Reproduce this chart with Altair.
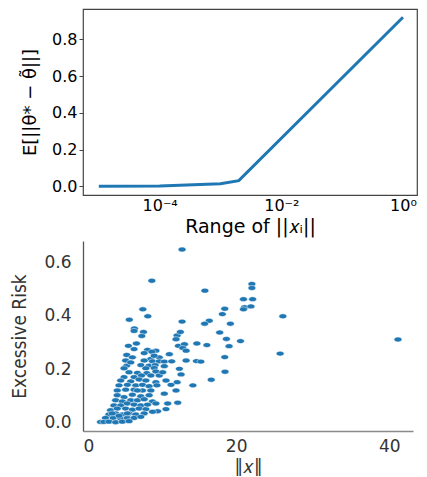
import altair as alt
import pandas as pd

# ---- top panel data ----
range_x = [1e-5, 1e-4, 1e-3, 2e-3, 1.0]
expected_err = [0.0, 0.002, 0.014, 0.031, 0.92]

# ---- bottom panel data ----
norm_x = [
    12.94, 8.99, 15.92, 22.06, 22.06, 20.96, 22.15, 21.10, 20.96, 21.93,
    18.51, 18.20, 26.10, 19.25, 16.49, 15.88, 12.94, 8.46, 7.81, 6.71,
    6.05, 17.85, 18.73, 20.57, 19.08, 41.14, 25.75, 18.51, 18.55, 16.75,
    16.18, 14.87, 14.82, 15.39,
    6.67, 7.90, 7.68, 12.29, 12.72, 12.15, 5.93, 6.98, 12.46, 13.25,
    6.67, 8.43, 9.52, 13.03, 7.99, 9.00, 13.47, 5.71, 6.45, 9.96,
    11.28, 8.86, 9.30, 5.57, 7.99, 9.08, 9.96, 10.62, 11.58, 13.47,
    5.71, 7.55, 8.64, 9.43, 8.21, 9.30, 10.62, 12.59, 6.01, 7.11,
    8.34, 9.52, 5.36, 6.67, 7.64, 8.86, 9.96, 12.81, 4.92, 6.23,
    7.33, 8.21, 9.52, 10.84, 12.29, 4.70, 5.79, 6.89, 7.77, 8.64,
    9.65, 14.35, 4.48, 5.57, 6.67, 7.77, 8.86, 10.62, 12.15, 4.48,
    5.36, 6.45, 7.55, 8.64, 4.26, 5.14, 6.23, 7.11, 7.99, 9.08,
    4.04, 4.92, 5.79, 6.67, 7.55, 9.52, 11.06, 12.37, 3.60, 4.48,
    5.57, 6.45, 7.33, 8.21, 9.74, 10.84, 3.38, 4.26, 5.14, 6.01,
    6.89, 7.99, 2.94, 3.95, 4.92, 5.79, 6.67, 7.55, 2.29, 2.72,
    3.38, 4.26, 5.14, 6.01, 11.49,
    10.40, 6.23, 7.11, 5.79, 5.36, 9.08, 8.43, 4.70, 3.82,
]
excess_risk = [
    0.649, 0.532, 0.495, 0.520, 0.505, 0.463, 0.463, 0.433, 0.425, 0.436,
    0.427, 0.407, 0.399, 0.371, 0.382, 0.371, 0.379, 0.399, 0.425, 0.353,
    0.386, 0.338, 0.314, 0.306, 0.287, 0.312, 0.259, 0.246, 0.191, 0.161,
    0.291, 0.297, 0.231, 0.229,
    0.344, 0.340, 0.325, 0.327, 0.340, 0.313, 0.288, 0.297, 0.288, 0.294,
    0.276, 0.273, 0.270, 0.280, 0.261, 0.266, 0.270, 0.254, 0.245, 0.245,
    0.257, 0.239, 0.251, 0.233, 0.233, 0.230, 0.230, 0.229, 0.230, 0.233,
    0.214, 0.216, 0.214, 0.216, 0.204, 0.205, 0.212, 0.202, 0.189, 0.187,
    0.186, 0.192, 0.171, 0.171, 0.177, 0.177, 0.177, 0.181, 0.158, 0.155,
    0.162, 0.158, 0.152, 0.158, 0.152, 0.140, 0.142, 0.140, 0.142, 0.137,
    0.140, 0.140, 0.121, 0.124, 0.124, 0.121, 0.121, 0.109, 0.121, 0.103,
    0.096, 0.105, 0.099, 0.103, 0.084, 0.080, 0.084, 0.084, 0.088, 0.080,
    0.065, 0.065, 0.072, 0.068, 0.065, 0.072, 0.072, 0.075, 0.047, 0.053,
    0.053, 0.049, 0.053, 0.051, 0.043, 0.051, 0.031, 0.035, 0.031, 0.035,
    0.031, 0.035, 0.018, 0.018, 0.016, 0.018, 0.018, 0.022, 0.003, 0.003,
    0.004, 0.002, 0.004, 0.006, 0.142,
    0.189, 0.226, 0.121, 0.035, 0.204, 0.041, 0.068, 0.026, 0.035,
]

top_ticks = [1e-4, 1e-2, 1.0]
top_yticks = [0.0, 0.2, 0.4, 0.6, 0.8]
bot_xticks = [0, 20, 40]
bot_yticks = [0.0, 0.2, 0.4, 0.6]

top_df = pd.DataFrame({"range": range_x, "err": expected_err})
bot_df = pd.DataFrame({"norm": norm_x, "risk": excess_risk})

BLUE = "#1f77b4"
NARROW = "Liberation Sans Narrow, DejaVu Sans Condensed, Roboto, sans-serif"

top = alt.Chart(top_df).mark_line(color=BLUE, strokeWidth=3).encode(
    x=alt.X(
        "range:Q",
        scale=alt.Scale(type="log", domain=[5.5e-6, 1.7], nice=False),
        axis=alt.Axis(
            values=top_ticks,
            labelExpr="datum.value > 0.5 ? '10⁰' : (datum.value > 0.001 ? '10⁻²' : '10⁻⁴')",
            ticks=False, domain=False, grid=False,
            labelFont="DejaVu Sans", labelFontSize=16, labelColor="#000",
            labelPadding=2, labelFlush=False,
            title="Range of ||𝑥ᵢ||", titleFont="DejaVu Sans", titleFontSize=19,
            titleFontWeight="normal", titleColor="#000", titlePadding=4,
        ),
    ),
    y=alt.Y(
        "err:Q",
        scale=alt.Scale(domain=[-0.047, 0.965], nice=False, zero=False),
        axis=alt.Axis(
            values=top_yticks, format=".1f",
            ticks=True, tickSize=4, tickColor="#444", domain=False, grid=False,
            labelFont="DejaVu Sans", labelFontSize=16, labelColor="#000", labelPadding=2,
            title="E[||θ* − θ̃||]", titleFont="DejaVu Sans", titleFontSize=18,
            titleFontWeight="normal", titleColor="#000", titlePadding=12,
        ),
    ),
).properties(
    width=334, height=186,
    view=alt.ViewBackground(stroke="#444", strokeWidth=1.2),
)

ellipse = "M-1,0A1,0.62,0,1,0,1,0A1,0.62,0,1,0,-1,0Z"

bottom = alt.Chart(bot_df).mark_point(
    shape=ellipse, filled=True, size=62, fill=BLUE, stroke="white",
    strokeWidth=0.5, opacity=1, fillOpacity=1,
).encode(
    x=alt.X(
        "norm:Q",
        scale=alt.Scale(domain=[0, 43.1], nice=False, zero=False),
        axis=alt.Axis(
            values=bot_xticks, ticks=False, grid=False,
            domainColor="#8a8a8a", domainWidth=1.3,
            labelFont="DejaVu Sans", labelFontSize=17, labelColor="#333", labelPadding=7,
            title="‖𝑥‖", titleFont=NARROW, titleFontSize=19,
            titleFontWeight="normal", titleColor="#333", titlePadding=3,
        ),
    ),
    y=alt.Y(
        "risk:Q",
        scale=alt.Scale(domain=[-0.031, 0.681], nice=False, zero=False),
        axis=alt.Axis(
            values=bot_yticks, format=".1f", ticks=False, grid=False,
            domainColor="#555", domainWidth=1.3,
            labelFont="DejaVu Sans", labelFontSize=17, labelColor="#333", labelPadding=12,
            title="Excessive Risk", titleFont=NARROW, titleFontSize=19,
            titleFontWeight="normal", titleColor="#333", titlePadding=14,
        ),
    ),
).properties(
    width=330, height=190,
    view=alt.ViewBackground(strokeWidth=0),
)

chart = alt.vconcat(top, bottom, spacing=4).properties(
    padding={"left": 2, "top": 0, "right": 0, "bottom": 0}
).configure(font="DejaVu Sans")

chart.save("out.html", embed_options={"renderer": "svg", "actions": False})
